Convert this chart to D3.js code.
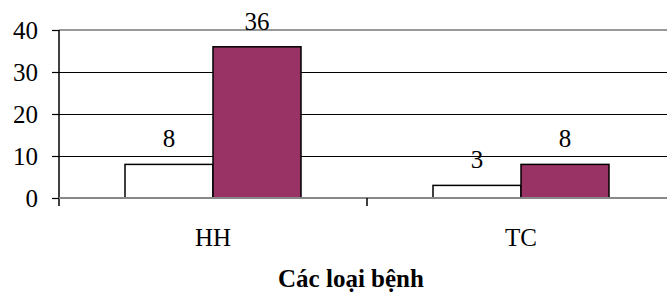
<!DOCTYPE html>
<html>
    <head>
        <meta charset="UTF-8">
        <title>Các loại bệnh</title>
        <script src="https://cdn.jsdelivr.net/npm/d3@7"></script>
        <style>
            body { margin: 0; background: #fff; }
            svg text { font-family: "Liberation Serif", "Times New Roman", "DejaVu Serif", serif !important; fill: #000; }
        </style>
    </head>
    <body>
        <div id="chart"></div>
        <script>
            //-----------------------------------------
            var categories = ["HH", "TC"];
            var series = ["s1", "s2"];
            var valuesS1 = [8, 3];
            var valuesS2 = [36, 8];
            var yTicks = [0, 10, 20, 30, 40];
            var xTitle = "Các loại bệnh";

            var width = 667, height = 293;
            var plotLeft = 59, plotRight = 675, plotTop = 30, plotBottom = 198;
            var fs = 25;

            var svg = d3.select("#chart").append("svg")
                    .attr("width", width)
                    .attr("height", height)
                    .attr("font-family", "Liberation Serif, serif");

            var x = d3.scaleBand().domain(categories).range([plotLeft, plotRight]).padding(0);
            var xs = d3.scaleBand().domain(series).range([0, x.bandwidth()])
                    .paddingInner(0).paddingOuter(0.75);
            var y = d3.scaleLinear().domain([0, 40]).range([plotBottom, plotTop]);

            // gridlines
            svg.append("g").selectAll("line")
                    .data(yTicks.filter(function (d) { return d > 0; }))
                    .enter().append("line")
                    .attr("x1", plotLeft).attr("x2", width)
                    .attr("y1", function (d) { return y(d); })
                    .attr("y2", function (d) { return y(d); })
                    .attr("stroke", function (d) { return d === 40 ? "#999" : "#000"; })
                    .attr("stroke-width", function (d) { return d === 40 ? 1.5 : 1; })
                    .attr("shape-rendering", "crispEdges");

            // bars
            var rows = categories.map(function (c, i) {
                return [{cat: c, s: "s1", v: valuesS1[i]}, {cat: c, s: "s2", v: valuesS2[i]}];
            });
            var groups = svg.append("g").selectAll("g")
                    .data(rows).enter().append("g")
                    .attr("transform", function (d) { return "translate(" + x(d[0].cat) + ",0)"; });
            groups.selectAll("rect")
                    .data(function (d) { return d; })
                    .enter().append("rect")
                    .attr("x", function (d) { return xs(d.s); })
                    .attr("width", xs.bandwidth())
                    .attr("y", function (d) { return y(d.v); })
                    .attr("height", function (d) { return y(0) - y(d.v); })
                    .attr("fill", function (d) { return d.s === "s1" ? "#fff" : "#993366"; })
                    .attr("stroke", "#000")
                    .attr("stroke-width", 1.5);
            groups.selectAll("text")
                    .data(function (d) { return d; })
                    .enter().append("text")
                    .attr("x", function (d) { return xs(d.s) + xs.bandwidth() / 2; })
                    .attr("y", function (d) { return y(d.v) - 17; })
                    .attr("text-anchor", "middle")
                    .attr("font-size", fs)
                    .text(function (d) { return d.v; });

            // y axis
            var yAxis = svg.append("g")
                    .attr("transform", "translate(" + plotLeft + ",0)")
                    .call(d3.axisLeft(y).tickValues(yTicks).tickSize(7).tickPadding(14));
            yAxis.attr("font-family", null);
            yAxis.select(".domain").attr("stroke", "#000").attr("stroke-width", 1.5)
                    .attr("d", "M0," + plotTop + "V" + (plotBottom + 8));
            yAxis.selectAll(".tick line").attr("stroke", "#000").attr("stroke-width", 1.2);
            yAxis.selectAll(".tick text").attr("font-size", fs).attr("dy", "0.34em");

            // x axis
            var xAxis = svg.append("g")
                    .attr("transform", "translate(0," + plotBottom + ")")
                    .call(d3.axisBottom(x).tickSize(0).tickPadding(30));
            xAxis.attr("font-family", null);
            xAxis.select(".domain").attr("stroke", "#888").attr("stroke-width", 2)
                    .attr("d", "M" + plotLeft + ",0H" + width);
            xAxis.selectAll(".tick text").attr("font-size", fs);
            // category boundary ticks
            xAxis.selectAll("line.bound")
                    .data(categories.slice(1))
                    .enter().append("line")
                    .attr("class", "bound")
                    .attr("x1", function (d) { return x(d); })
                    .attr("x2", function (d) { return x(d); })
                    .attr("y1", 0).attr("y2", 8)
                    .attr("stroke", "#000").attr("stroke-width", 1.5);

            svg.append("text")
                    .attr("x", 351).attr("y", 287)
                    .attr("text-anchor", "middle")
                    .attr("font-size", fs)
                    .attr("font-weight", "bold")
                    .text(xTitle);
        </script>
    </body>
</html>
